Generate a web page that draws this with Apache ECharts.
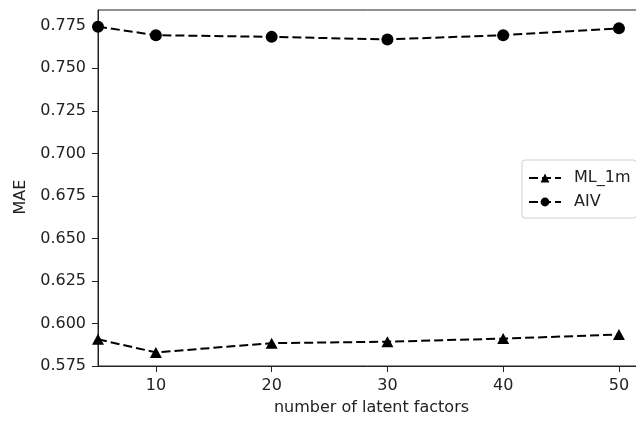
<!DOCTYPE html>
<html>
<head>
<meta charset="utf-8">
<script src="https://cdn.jsdelivr.net/npm/echarts@6/dist/echarts.min.js"></script>
<style>
html,body{margin:0;padding:0;background:#fff;}
#c{width:636px;height:421px;}
</style>
</head>
<body>
<div id="c"></div>
<script>
const factors = [5, 10, 20, 30, 40, 50];
const mlValues = [0.5907, 0.5830, 0.5884, 0.5893, 0.5911, 0.5935];
const aivValues = [0.7745, 0.7695, 0.7685, 0.7670, 0.7695, 0.7735];
const xTicks = [10, 20, 30, 40, 50];
const seriesNames = ['ML_1m', 'AIV'];
const xName = 'number of latent factors';
const yName = 'MAE';

const font = 'DejaVu Sans';
const ink = '#222';
const chart = echarts.init(document.getElementById('c'), null, {renderer: 'canvas'});

function pairs(xs, ys) { return xs.map((x, i) => [x, ys[i]]); }

chart.setOption({
  animation: false,
  backgroundColor: '#fff',
  grid: {left: 98, top: 10, width: 547, height: 356, outerBoundsMode: 'none', containLabel: false,
    show: true, borderColor: ink, borderWidth: 1, backgroundColor: 'transparent'},
  legend: {
    left: 522, top: 160,
    orient: 'vertical',
    backgroundColor: '#fff',
    borderColor: '#d0d0d0', borderWidth: 1, borderRadius: 3,
    padding: [9, 6, 7, 6],
    itemWidth: 32, itemHeight: 11, itemGap: 6,
    textStyle: {fontFamily: font, fontSize: 16, color: ink, lineHeight: 18, padding: [0, 0, 0, 8]},
    data: seriesNames
  },
  xAxis: {
    type: 'value', min: 5, max: 52.25,
    name: xName, nameLocation: 'middle', nameGap: 34,
    nameTextStyle: {fontFamily: font, fontSize: 16, color: ink},
    splitLine: {show: false},
    axisLine: {lineStyle: {color: ink, width: 1}},
    axisTick: {show: true, length: 6, inside: false, lineStyle: {color: ink}, customValues: xTicks},
    axisLabel: {fontFamily: font, fontSize: 16, color: ink, margin: 12, customValues: xTicks}
  },
  yAxis: {
    type: 'value', min: 0.575, max: 0.7843, interval: 0.025,
    name: yName, nameLocation: 'middle', nameGap: 66, nameRotate: 90,
    nameTextStyle: {fontFamily: font, fontSize: 16, color: ink, padding: [0, 18, 0, 0]},
    splitLine: {show: false},
    axisLine: {show: true, lineStyle: {color: ink, width: 1}},
    axisTick: {show: true, length: 6, lineStyle: {color: ink}},
    axisLabel: {fontFamily: font, fontSize: 16, color: ink, margin: 12, showMaxLabel: false,
      formatter: v => v.toFixed(3)}
  },
  series: [
    {
      name: seriesNames[0], type: 'line', data: pairs(factors, mlValues),
      symbol: 'triangle', symbolSize: [12, 11], showSymbol: true,
      lineStyle: {color: '#000', width: 2, type: [9, 4]},
      itemStyle: {color: '#000'}
    },
    {
      name: seriesNames[1], type: 'line', data: pairs(factors, aivValues),
      symbol: 'circle', symbolSize: 12, showSymbol: true,
      lineStyle: {color: '#000', width: 2, type: [9, 4]},
      itemStyle: {color: '#000'}
    }
  ]
});
</script>
</body>
</html>
